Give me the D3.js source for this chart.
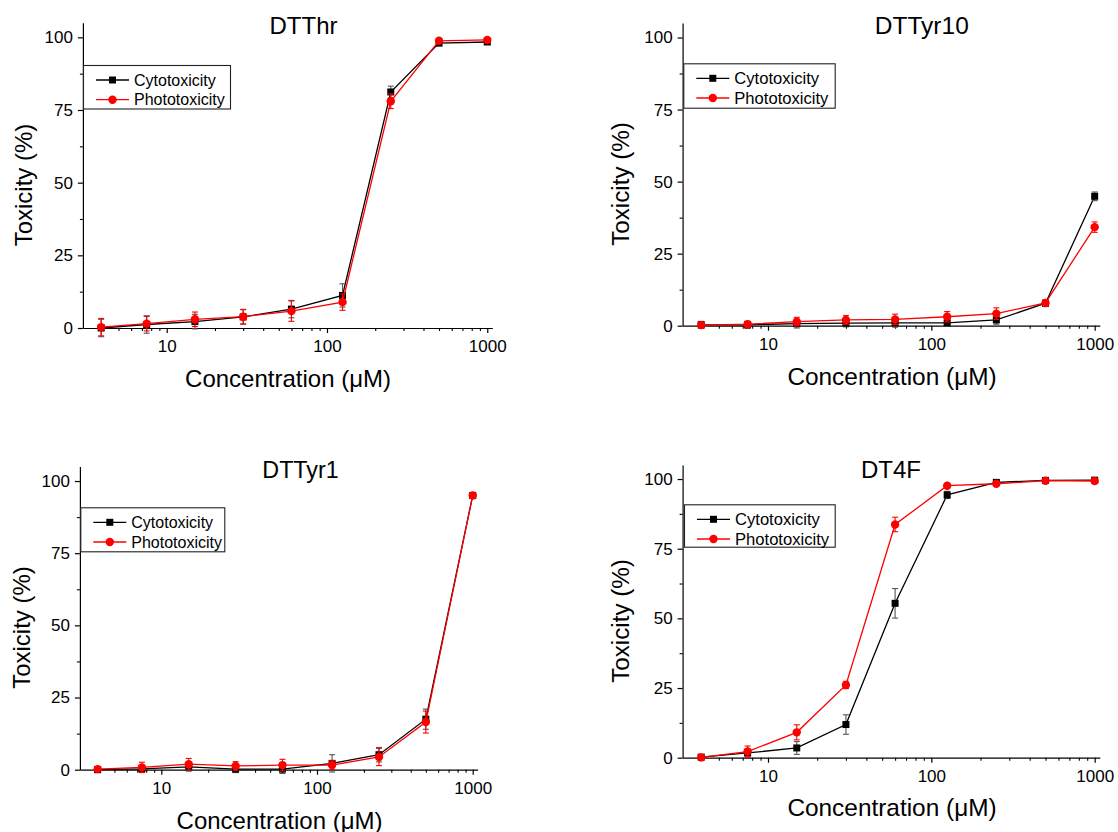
<!DOCTYPE html>
<html><head><meta charset="utf-8">
<script src="https://cdn.jsdelivr.net/npm/d3@7"></script>
<style>
html,body{margin:0;padding:0;background:#fff;}
svg{display:block;font-family:Arial,"Liberation Sans",Helvetica,sans-serif;}
</style></head>
<body>
<svg id="chart" width="1118" height="832"></svg>
<script>
// ---------------- data ----------------
const concentrations = [3.9, 7.5, 15, 30, 60, 125, 250, 500, 1000];
const panelTitles = ["DTThr", "DTTyr10", "DTTyr1", "DT4F"];
const seriesNames = ["Cytotoxicity", "Phototoxicity"];
const yTickValues = [0, 25, 50, 75, 100];
const yMinorValues = [12.5, 37.5, 62.5, 87.5];
const xTickValues = [10, 100, 1000];
const xTitle = "Concentration (\u03BCM)";
const yTitle = "Toxicity (%)";

const cytoDTThr     = [0, 1.2, 2.2, 3.8, 6.5, 11.2, 81.2, 98.0, 98.4];
const cytoErrDTThr  = [3.0, 3.0, 2.5, 2.5, 3.0, 4.0, 2.0, 0.6, 0.8];
const photoDTThr    = [0.3, 1.5, 3.0, 3.9, 5.8, 8.9, 78.0, 98.8, 99.1];
const photoErrDTThr = [3.0, 2.5, 2.5, 2.5, 3.5, 2.8, 2.5, 0.4, 0.5];

const cytoDTTyr10     = [0.3, 0.3, 0.7, 0.9, 1.0, 1.0, 2.0, 7.8, 44.9];
const cytoErrDTTyr10  = [1.2, 1.2, 1.5, 1.3, 1.5, 1.0, 1.5, 1.0, 1.5];
const photoDTTyr10    = [0.2, 0.5, 1.4, 2.0, 2.2, 3.1, 4.2, 7.9, 34.2];
const photoErrDTTyr10 = [1.0, 1.0, 1.5, 1.5, 1.8, 1.8, 2.0, 1.0, 1.8];

const cytoDTTyr1     = [0, 0.3, 1.0, 0.2, 0.2, 2.2, 5.2, 17.5, 95.0];
const cytoErrDTTyr1  = [0.5, 1.2, 1.5, 1.2, 1.5, 3.0, 2.5, 3.5, 0.5];
const photoDTTyr1    = [0.2, 0.8, 1.9, 1.3, 1.6, 1.6, 4.4, 16.5, 95.0];
const photoErrDTTyr1 = [0.5, 1.8, 2.0, 1.5, 2.0, 1.5, 3.0, 3.8, 0.5];

const cytoDT4F     = [0.2, 1.7, 3.5, 11.9, 55.4, 94.3, 98.8, 99.5, 99.6];
const cytoErrDT4F  = [0.5, 1.5, 2.3, 3.5, 5.3, 1.3, 0.5, 0.5, 0.5];
const photoDT4F    = [0.1, 2.2, 9.1, 26.1, 83.7, 97.6, 98.3, 99.4, 99.3];
const photoErrDT4F = [0.5, 2.0, 2.7, 1.3, 2.6, 0.8, 0.5, 0.5, 0.5];

// ---------------- layout (pixel geometry, separate from data) ----------------
const xDomain = [3, 1075];
const yDomain = [0, 105];
const layouts = [
  {x0: 82.9, x1: 492.3, yBottom: 328, yTop: 22.8, title: [303.5, 34, 24], xt: [288, 387, 24], yt: [31.5, 185, 24],
   legend: {x: 83, y: 65, w: 147, h: 43.5, fs: 16}},
  {x0: 682.6, x1: 1099.8, yBottom: 325.7, yTop: 23.1, title: [921.8, 34, 24.5], xt: [892, 384.5, 24.4], yt: [629.2, 184, 24.2],
   legend: {x: 683.3, y: 63.3, w: 151.4, h: 44.4, fs: 16.6}},
  {x0: 79.9, x1: 477.6, yBottom: 769.7, yTop: 466.6, title: [300.5, 477.7, 23.3], xt: [279.5, 828.5, 24], yt: [29.9, 627.5, 24],
   legend: {x: 80.3, y: 507.3, w: 144, h: 44, fs: 16}},
  {x0: 682.6, x1: 1099.8, yBottom: 757.7, yTop: 465.1, title: [891, 477.7, 24], xt: [892, 815.5, 24.4], yt: [629, 621, 24.2],
   legend: {x: 684, y: 504.3, w: 150.7, h: 42.4, fs: 16.6}}
];

const panelSeries = [
  [[cytoDTThr, cytoErrDTThr], [photoDTThr, photoErrDTThr]],
  [[cytoDTTyr10, cytoErrDTTyr10], [photoDTTyr10, photoErrDTTyr10]],
  [[cytoDTTyr1, cytoErrDTTyr1], [photoDTTyr1, photoErrDTTyr1]],
  [[cytoDT4F, cytoErrDT4F], [photoDT4F, photoErrDT4F]]
];
const seriesColor = ["#000000", "#ff0000"];
const errColor = ["#555555", "#ff0000"];

const svg = d3.select("#chart");

function minorLogTicks(dom) {
  const out = [];
  for (let dec = 1; dec <= 1000; dec *= 10) {
    for (let m = 2; m <= 9; m++) {
      const v = m * dec;
      if (v > dom[0] && v < dom[1] && v !== 10 && v !== 100 && v !== 1000) out.push(v);
    }
  }
  return out.filter(v => v >= 3);
}

panelTitles.forEach((title, i) => {
  const L = layouts[i];
  const g = svg.append("g");
  const x = d3.scaleLog().domain(xDomain).range([L.x0, L.x1]);
  const y = d3.scaleLinear().domain(yDomain).range([L.yBottom, L.yTop]);

  // axes
  const xAxis = d3.axisBottom(x).tickValues(xTickValues).tickFormat(d3.format("d")).tickSizeInner(5).tickSizeOuter(0).tickPadding(3);
  const gx = g.append("g").attr("transform", `translate(0,${L.yBottom})`).call(xAxis);
  gx.selectAll("text").attr("font-size", 17).attr("fill", "#000").attr("font-family", "Arial, 'Liberation Sans', sans-serif").attr("dy", "0.95em");
  gx.selectAll("line,path").attr("stroke", "#000").attr("stroke-width", 1.2);
  const gxm = g.append("g").attr("transform", `translate(0,${L.yBottom})`)
    .call(d3.axisBottom(x).tickValues(minorLogTicks(xDomain)).tickSize(3).tickFormat(""));
  gxm.select("path").remove();
  gxm.selectAll("line").attr("stroke", "#000").attr("stroke-width", 1.1);

  const yAxis = d3.axisLeft(y).tickValues(yTickValues).tickSizeInner(5).tickSizeOuter(0).tickPadding(5);
  const gy = g.append("g").attr("transform", `translate(${L.x0},0)`).call(yAxis);
  gy.selectAll("text").attr("font-size", 17).attr("fill", "#000").attr("font-family", "Arial, 'Liberation Sans', sans-serif");
  gy.selectAll("line,path").attr("stroke", "#000").attr("stroke-width", 1.2);
  const gym = g.append("g").attr("transform", `translate(${L.x0},0)`)
    .call(d3.axisLeft(y).tickValues(yMinorValues).tickSize(3).tickFormat(""));
  gym.select("path").remove();
  gym.selectAll("line").attr("stroke", "#000").attr("stroke-width", 1.1);

  // series
  panelSeries[i].forEach((s, si) => {
    const vals = s[0], errs = s[1];
    const pts = concentrations.map((c, k) => ({c, v: vals[k], e: errs[k]}));
    const line = d3.line().x(d => x(d.c)).y(d => y(d.v));
    g.append("path").datum(pts).attr("d", line).attr("fill", "none")
      .attr("stroke", seriesColor[si]).attr("stroke-width", 1.3);
    const eb = g.append("g").attr("stroke", errColor[si]).attr("stroke-width", 1.1);
    pts.forEach(d => {
      const cx = x(d.c);
      eb.append("line").attr("x1", cx).attr("x2", cx).attr("y1", y(d.v - d.e)).attr("y2", y(d.v + d.e));
      eb.append("line").attr("x1", cx - 3).attr("x2", cx + 3).attr("y1", y(d.v - d.e)).attr("y2", y(d.v - d.e));
      eb.append("line").attr("x1", cx - 3).attr("x2", cx + 3).attr("y1", y(d.v + d.e)).attr("y2", y(d.v + d.e));
    });
    if (si === 0) {
      g.append("g").selectAll("rect").data(pts).join("rect")
        .attr("x", d => x(d.c) - 3.5).attr("y", d => y(d.v) - 3.5)
        .attr("width", 7).attr("height", 7).attr("fill", "#000");
    } else {
      g.append("g").selectAll("circle").data(pts).join("circle")
        .attr("cx", d => x(d.c)).attr("cy", d => y(d.v)).attr("r", 4.2).attr("fill", "#ff0000");
    }
  });

  // title
  g.append("text").attr("x", L.title[0]).attr("y", L.title[1]).attr("text-anchor", "middle")
    .attr("font-size", L.title[2]).text(title);
  // axis titles
  g.append("text").attr("x", L.xt[0]).attr("y", L.xt[1]).attr("text-anchor", "middle")
    .attr("font-size", L.xt[2]).text(xTitle);
  g.append("text").attr("transform", `translate(${L.yt[0]},${L.yt[1]}) rotate(-90)`).attr("text-anchor", "middle")
    .attr("font-size", L.yt[2]).text(yTitle);

  // legend
  const lg = L.legend;
  const leg = g.append("g").attr("transform", `translate(${lg.x},${lg.y})`);
  leg.append("rect").attr("x", 0.5).attr("y", 0.5).attr("width", lg.w).attr("height", lg.h)
    .attr("fill", "#fff").attr("stroke", "#222").attr("stroke-width", 1.1);
  seriesNames.forEach((name, si) => {
    const ry = 15 + si * 19.7;
    leg.append("line").attr("x1", 13).attr("x2", 46).attr("y1", ry).attr("y2", ry)
      .attr("stroke", seriesColor[si]).attr("stroke-width", 1.3);
    if (si === 0) leg.append("rect").attr("x", 29.5 - 3.5).attr("y", ry - 3.5).attr("width", 7).attr("height", 7).attr("fill", "#000");
    else leg.append("circle").attr("cx", 29.5).attr("cy", ry).attr("r", 4.2).attr("fill", "#ff0000");
    leg.append("text").attr("x", 51).attr("y", ry).attr("dy", "0.35em").attr("font-size", lg.fs).text(name);
  });
});
</script>
</body></html>
